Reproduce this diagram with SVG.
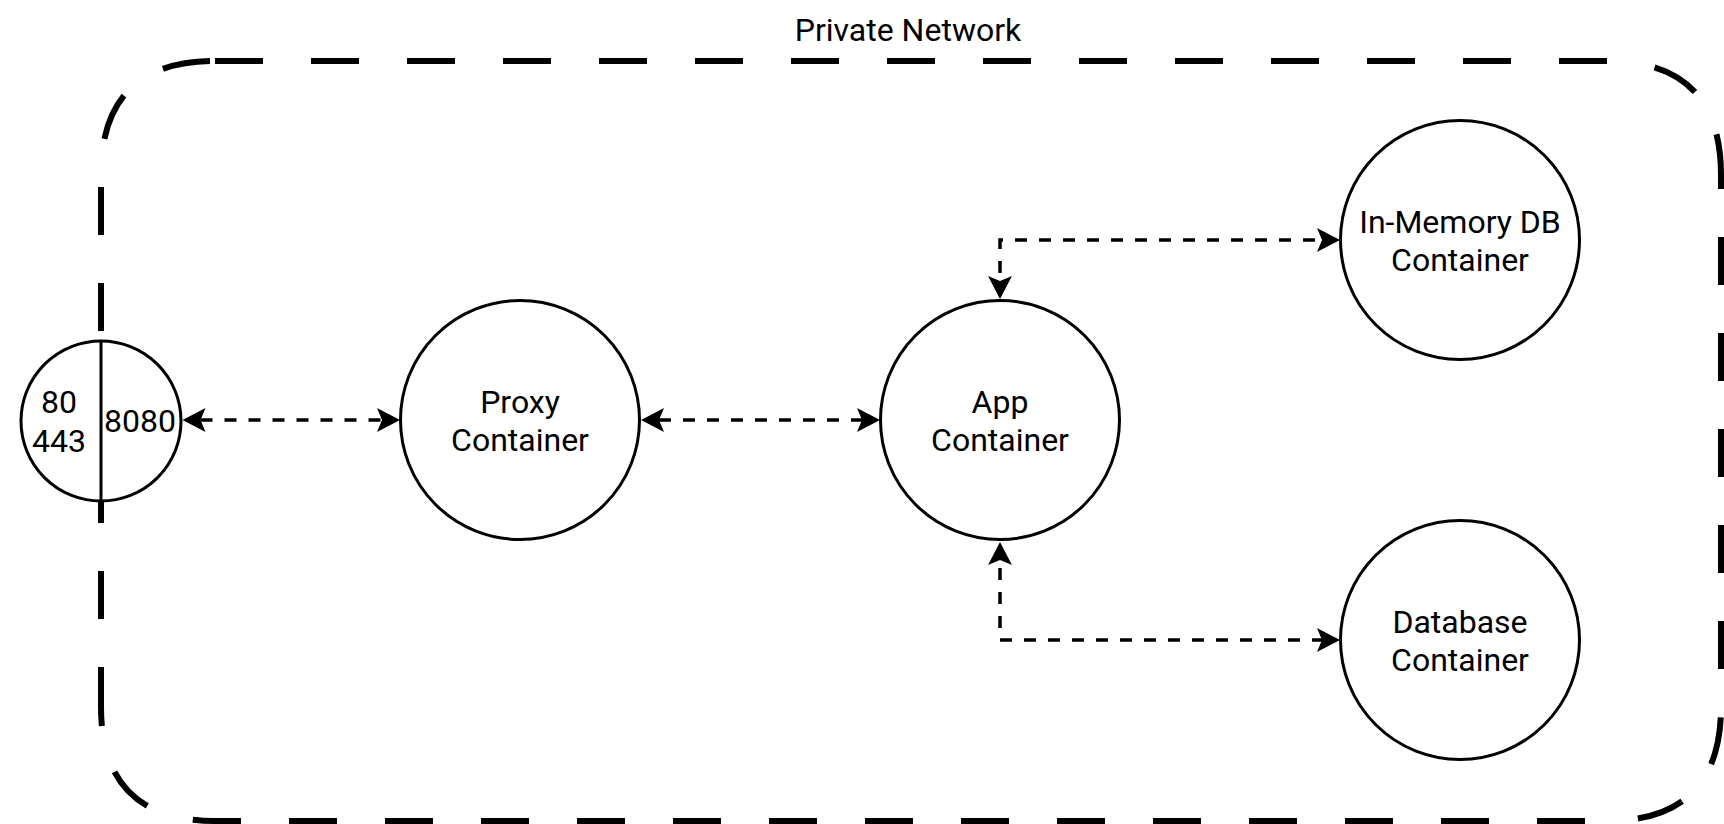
<svg xmlns="http://www.w3.org/2000/svg" width="1724" height="824" viewBox="0 0 1724 824">
  <style>
    .node { fill: #ffffff; stroke: #000000; stroke-width: 3; }
    .lbl { font-family: Roboto, "Liberation Sans", sans-serif; font-size: 32px; fill: #000000; text-anchor: middle; }
    .edge { fill: none; stroke: #000000; stroke-width: 3.5; stroke-dasharray: 12 12; }
    .frame { fill: none; stroke: #000000; stroke-width: 6; stroke-dasharray: 48 48; }
  </style>
  <defs>
    <marker id="arrow" markerUnits="userSpaceOnUse" viewBox="-6 -13 26 26" refX="0" refY="0" markerWidth="26" markerHeight="26" orient="auto-start-reverse" overflow="visible">
      <path d="M18,0 L-5,-12 L0,0 L-5,12 Z" fill="#000000"/>
    </marker>
  </defs>
  <rect width="1724" height="824" fill="#ffffff"/>

  <g id="private-network">
    <path class="frame" d="M215,61 L1607,61 Q1721,61 1721,175" stroke-dashoffset="0"/>
    <path class="frame" d="M1721,175 L1721,707 Q1721,821 1607,821" stroke-dashoffset="34"/>
    <path class="frame" d="M1607,821 L215,821 Q101,821 101,707" stroke-dashoffset="74"/>
    <path class="frame" d="M101,707 L101,175 Q101,61 215,61" stroke-dashoffset="8"/>
    <text class="lbl" x="908" y="41">Private Network</text>
  </g>

  <g id="connectors">
    <path class="edge" d="M200.5,420 L382,420" marker-start="url(#arrow)" marker-end="url(#arrow)"/>
    <path class="edge" d="M659,420 L862,420" marker-start="url(#arrow)" marker-end="url(#arrow)"/>
    <path class="edge" d="M1000,281 L1000,240 L1322,240" stroke-dashoffset="-8" marker-start="url(#arrow)" marker-end="url(#arrow)"/>
    <path class="edge" d="M1000,560 L1000,640 L1322,640" stroke-dashoffset="-8" marker-start="url(#arrow)" marker-end="url(#arrow)"/>
  </g>

  <g id="port">
    <circle class="node" cx="101" cy="421" r="80"/>
    <line x1="101" y1="341" x2="101" y2="501" stroke="#000000" stroke-width="3"/>
    <text class="lbl" x="59" y="413">80</text>
    <text class="lbl" x="59" y="452">443</text>
    <text class="lbl" x="140" y="432">8080</text>
  </g>

  <g id="proxy">
    <circle class="node" cx="520" cy="420" r="119.5"/>
    <text class="lbl" x="520" y="413">Proxy</text>
    <text class="lbl" x="520" y="451">Container</text>
  </g>

  <g id="app">
    <circle class="node" cx="1000" cy="420" r="119.5"/>
    <text class="lbl" x="1000" y="413">App</text>
    <text class="lbl" x="1000" y="451">Container</text>
  </g>

  <g id="inmemory">
    <circle class="node" cx="1460" cy="240" r="119.5"/>
    <text class="lbl" x="1460" y="233">In-Memory DB</text>
    <text class="lbl" x="1460" y="271">Container</text>
  </g>

  <g id="database">
    <circle class="node" cx="1460" cy="640" r="119.5"/>
    <text class="lbl" x="1460" y="633">Database</text>
    <text class="lbl" x="1460" y="671">Container</text>
  </g>
</svg>
